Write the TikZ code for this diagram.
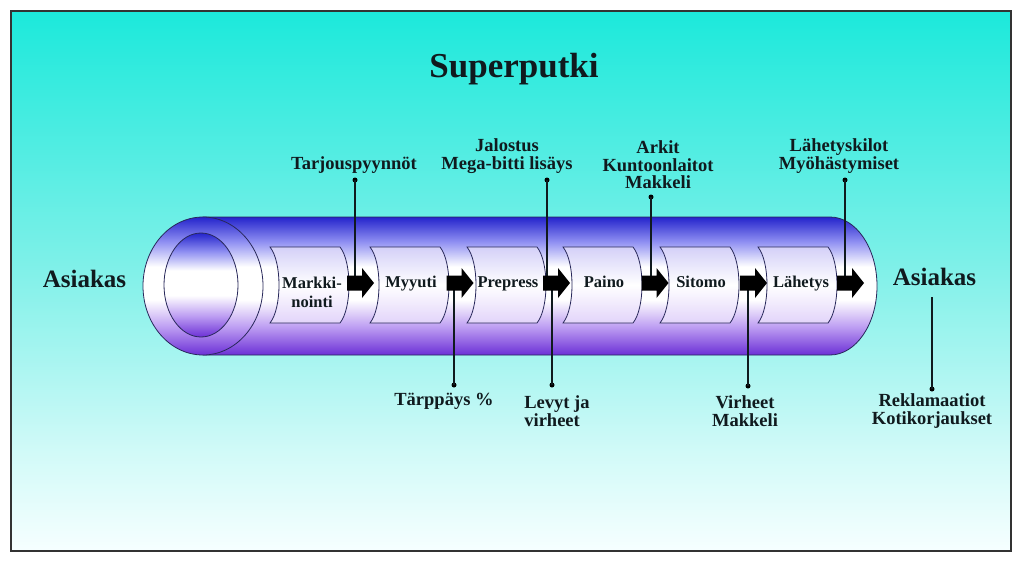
\documentclass[tikz,border=0pt]{standalone}
\usepackage{fontspec}
\setmainfont{Liberation Serif}
\definecolor{bgtop}{HTML}{1CE9DB}
\definecolor{bgmid}{HTML}{7CF0E8}
\definecolor{bglow}{HTML}{D2FAF8}
\definecolor{bgbot}{HTML}{F6FFFF}
\definecolor{tubetop}{HTML}{2424CC}
\definecolor{tubehigh}{HTML}{9090F2}
\definecolor{tubelow}{HTML}{BC9CF2}
\definecolor{tubebot}{HTML}{6C30D6}
\definecolor{boxtop}{HTML}{D4D0F8}
\definecolor{boxbot}{HTML}{E2D4FA}
\definecolor{edge}{HTML}{28285A}
\definecolor{ink}{HTML}{101A1E}
\pgfdeclareverticalshading{bgshade}{100bp}{color(0bp)=(bgbot); color(25bp)=(bgbot); color(34bp)=(bglow); color(52bp)=(bgmid); color(75bp)=(bgtop); color(100bp)=(bgtop)}
\pgfdeclareverticalshading{tubeshade}{100bp}{color(0bp)=(tubebot); color(25bp)=(tubebot); color(35bp)=(tubelow); color(45bp)=(white); color(57bp)=(white); color(66bp)=(tubehigh); color(75bp)=(tubetop); color(100bp)=(tubetop)}
\pgfdeclareverticalshading{boxshade}{100bp}{color(0bp)=(boxbot); color(25bp)=(boxbot); color(50bp)=(white); color(75bp)=(boxtop); color(100bp)=(boxtop)}
\begin{document}
\begin{tikzpicture}[x=1pt,y=-1pt,
  lbl/.style={font=\fontsize{18.5}{17.5}\selectfont\bfseries, text=ink, align=center, inner sep=0},
  boxlbl/.style={font=\fontsize{16.5}{19}\selectfont\bfseries, text=ink, align=center, inner sep=0},
  bigl/.style={font=\fontsize{25}{28}\selectfont\bfseries, text=ink, inner sep=0},
  titl/.style={font=\fontsize{35}{38}\selectfont\bfseries, text=ink, inner sep=0},
  dot/.style={circle, fill=black, inner sep=0, minimum size=5pt},
  conn/.style={draw=ink, line width=1.1pt},
  procbox/.pic={\path[draw=edge, line width=0.8pt, shading=boxshade]
     (0,0) -- (70,0) .. controls (82,15) and (82,61) .. (70,76) -- (0,76)
     .. controls (12,61) and (12,15) .. (0,0) -- cycle;},
  blockarr/.pic={\fill[black] (-13.5,-7.5) -- (1.5,-7.5) -- (1.5,-15) -- (13.5,0)
     -- (1.5,15) -- (1.5,7.5) -- (-13.5,7.5) -- cycle;}
]
\useasboundingbox (0,0) rectangle (1024,563);
\fill[white] (0,0) rectangle (1024,563);
% background and frame
\path[shading=bgshade] (11,11) rectangle (1011,551);
\draw[line width=2.2pt, draw=black!80] (11,11) rectangle (1011,551);
% title
\node[titl, anchor=base] (title) at (514,77) {Superputki};
% tube body
\path[draw=edge, line width=0.8pt, shading=tubeshade]
  (203,217) -- (830,217) arc[start angle=-90, end angle=90, x radius=47, y radius=69]
  -- (203,355) -- cycle;
% left face
\path[draw=edge, line width=0.8pt, shading=tubeshade] (203,286) ellipse[x radius=60, y radius=69];
\path[draw=edge, line width=0.8pt, shading=tubeshade] (201,285) ellipse[x radius=37, y radius=52];
% process boxes
\pic at (270,247) {procbox};
\pic at (370,247) {procbox};
\pic at (467,247) {procbox};
\pic at (563,247) {procbox};
\pic at (660,247) {procbox};
\pic at (758,247) {procbox};
\node[boxlbl] (b1) at (312,292) {Markki-\\nointi};
\node[boxlbl, anchor=base] (b2) at (411,287) {Myyuti};
\node[boxlbl, anchor=base] (b3) at (508,287) {Prepress};
\node[boxlbl, anchor=base] (b4) at (604,287) {Paino};
\node[boxlbl, anchor=base] (b5) at (701,287) {Sitomo};
\node[boxlbl, anchor=base] (b6) at (801,287) {Lähetys};
% arrow centres
\coordinate (a1) at (360.5,283);
\coordinate (a2) at (460,283);
\coordinate (a3) at (556.5,283);
\coordinate (a4) at (655,283);
\coordinate (a5) at (753.5,283);
\coordinate (a6) at (850.5,283);
% dots
\node[dot] (dTar) at (355,180) {};
\node[dot] (dJal) at (547,180) {};
\node[dot] (dArk) at (651,197) {};
\node[dot] (dLah) at (845,180) {};
\node[dot] (dTap) at (454,385) {};
\node[dot] (dLev) at (552,385) {};
\node[dot] (dVir) at (748,386) {};
\node[dot] (dRek) at (932,389) {};
\coordinate (rtop) at (932,297);
% connectors
\draw[conn] (dTar.center) -- (dTar |- a1);
\draw[conn] (dJal.center) -- (dJal |- a3);
\draw[conn] (dArk.center) -- (dArk |- a4);
\draw[conn] (dLah.center) -- (dLah |- a6);
\draw[conn] (dTap.center) -- (dTap |- a2);
\draw[conn] (dLev.center) -- (dLev |- a3);
\draw[conn] (dVir.center) -- (dVir |- a5);
\draw[conn] (dRek.center) -- (rtop);
% block arrows
\pic at (a1) {blockarr};
\pic at (a2) {blockarr};
\pic at (a3) {blockarr};
\pic at (a4) {blockarr};
\pic at (a5) {blockarr};
\pic at (a6) {blockarr};
% side labels
\node[bigl, anchor=base] (asL) at (84.5,287) {Asiakas};
\node[bigl, anchor=base] (asR) at (934.5,285) {Asiakas};
% annotation texts
\node[lbl, anchor=base] (tTar) at (354,169) {Tarjouspyynnöt};
\node[lbl] (tJal) at (507,156) {Jalostus\\Mega-bitti lisäys};
\node[lbl] (tArk) at (658,165) {Arkit\\Kuntoonlaitot\\Makkeli};
\node[lbl] (tLah) at (839,156) {Lähetyskilot\\Myöhästymiset};
\node[lbl, anchor=base] (tTap) at (444,405) {Tärppäys \%};
\node[lbl, align=left] (tLev) at (557,411) {Levyt ja\\virheet};
\node[lbl] (tVir) at (745,411) {Virheet\\Makkeli};
\node[lbl] (tRek) at (932,411) {Reklamaatiot\\Kotikorjaukset};
\end{tikzpicture}
\end{document}
